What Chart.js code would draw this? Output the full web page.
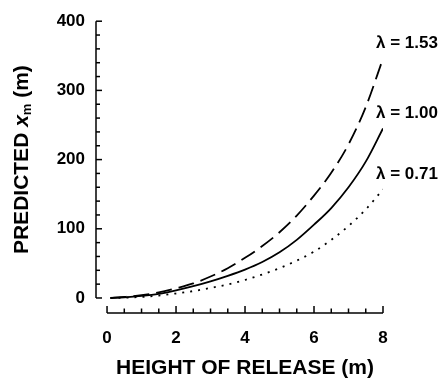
<!DOCTYPE html>
<html>
<head>
<meta charset="utf-8">
<script src="https://cdn.jsdelivr.net/npm/chart.js@4.4.1/dist/chart.umd.min.js"></script>
<style>
  html, body { margin: 0; padding: 0; background: #fff; }
  #wrap { width: 441px; height: 387px; position: relative; }
</style>
</head>
<body>
<div id="wrap"><canvas id="myChart"></canvas></div>
<script>
// height of release (m)
const heights = [0.1, 0.5, 1, 1.5, 2, 2.5, 3, 3.5, 4, 4.5, 5, 5.5, 6, 6.5, 7, 7.5, 8];
// predicted x_m (m) for each lambda
const xmLambda153 = [0, 1.5, 4, 8, 14, 21, 31, 43, 58, 75, 95, 119, 148, 181, 222, 276, 346];
const xmLambda100 = [0, 1, 3, 6, 11, 17, 24, 32, 41, 52, 66, 84, 106, 130, 160, 197, 245];
const xmLambda071 = [0, 0.5, 1.5, 3.5, 6.5, 10, 14.5, 19.5, 26, 34, 43, 54, 67, 84, 104, 128, 157];
const seriesLabels = ['λ = 1.53', 'λ = 1.00', 'λ = 0.71'];

const xTicks = [0, 2, 4, 6, 8];
const yTicks = [0, 100, 200, 300, 400];

const fontFamily = '"Liberation Sans", Arial, Helvetica, sans-serif';

function pts(ys) {
    return heights.map((h, i) => ({ x: h, y: ys[i] }));
}

// axis lines, minor ticks, titles and curve labels
const figurePlugin = {
    id: 'figurePlugin',
    afterDraw(chart) {
        const ctx = chart.ctx;
        const xs = chart.scales.x;
        const ys = chart.scales.y;
        const area = chart.chartArea;
        ctx.save();
        ctx.strokeStyle = '#000';
        ctx.lineWidth = 1.5;

        // y axis
        const ax = area.left;
        ctx.beginPath();
        ctx.moveTo(ax, ys.getPixelForValue(400));
        ctx.lineTo(ax, ys.getPixelForValue(0));
        ctx.stroke();
        for (let v = 0; v <= 400; v += 20) {
            const py = ys.getPixelForValue(v);
            const len = v % 100 === 0 ? 6 : 4;
            ctx.beginPath();
            ctx.moveTo(ax, py);
            ctx.lineTo(ax + len, py);
            ctx.stroke();
        }

        // x axis
        const ay = area.bottom;
        ctx.beginPath();
        ctx.moveTo(xs.getPixelForValue(0), ay);
        ctx.lineTo(xs.getPixelForValue(8), ay);
        ctx.stroke();
        for (let v = 0; v <= 8; v += 0.5) {
            const px = xs.getPixelForValue(v);
            const len = v % 2 === 0 ? 7 : 4.5;
            ctx.beginPath();
            ctx.moveTo(px, ay);
            ctx.lineTo(px, ay - len);
            ctx.stroke();
        }

        ctx.fillStyle = '#000';

        // curve labels
        ctx.font = 'bold 17px ' + fontFamily;
        ctx.textAlign = 'left';
        ctx.textBaseline = 'middle';
        chart.data.datasets.forEach((ds) => {
            const last = ds.data[ds.data.length - 1];
            ctx.fillText(ds.label, xs.getPixelForValue(last.x) - 7, ys.getPixelForValue(last.y) - 15);
        });

        // x title
        ctx.font = 'bold 21px ' + fontFamily;
        ctx.textAlign = 'center';
        ctx.fillText('HEIGHT OF RELEASE (m)', (xs.getPixelForValue(0) + xs.getPixelForValue(8)) / 2, 368);

        // y title: PREDICTED x_m (m)
        ctx.translate(22, (ys.getPixelForValue(0) + ys.getPixelForValue(400)) / 2);
        ctx.rotate(-Math.PI / 2);
        ctx.textAlign = 'left';
        const f1 = 'bold 21px ' + fontFamily;
        const f2 = 'italic bold 21px ' + fontFamily;
        const f3 = 'bold 13px ' + fontFamily;
        const parts = [
            { t: 'PREDICTED ', f: f1, dy: 0 },
            { t: 'x', f: f2, dy: 0 },
            { t: 'm', f: f3, dy: 5 },
            { t: ' (m)', f: f1, dy: 0 }
        ];
        let total = 0;
        parts.forEach(p => { ctx.font = p.f; p.w = ctx.measureText(p.t).width; total += p.w; });
        let cx = -total / 2;
        parts.forEach(p => {
            ctx.font = p.f;
            ctx.fillText(p.t, cx, p.dy);
            cx += p.w;
        });
        ctx.restore();
    }
};

const ctx = document.getElementById('myChart').getContext('2d');

const myChart = new Chart(ctx, {
    type: 'line',
    data: {
        datasets: [{
            label: seriesLabels[0],
            data: pts(xmLambda153),
            borderColor: '#000',
            borderWidth: 1.8,
            borderDash: [16, 7]
        }, {
            label: seriesLabels[1],
            data: pts(xmLambda100),
            borderColor: '#000',
            borderWidth: 1.8
        }, {
            label: seriesLabels[2],
            data: pts(xmLambda071),
            borderColor: '#000',
            borderWidth: 1.8,
            borderDash: [2, 6]
        }]
    },
    options: {
        responsive: true,
        maintainAspectRatio: false,
        animation: false,
        events: [],
        layout: {
            padding: { left: 0, right: 58, top: 21, bottom: 0 }
        },
        elements: {
            point: { radius: 0 },
            line: { tension: 0.4, cubicInterpolationMode: 'monotone', fill: false }
        },
        plugins: {
            legend: { display: false },
            tooltip: { enabled: false }
        },
        scales: {
            x: {
                type: 'linear',
                min: -0.32,
                max: 8,
                afterBuildTicks: (scale) => { scale.ticks = xTicks.map(v => ({ value: v })); },
                afterFit: (scale) => { scale.height = 74; },
                grid: { display: false, drawTicks: false },
                border: { display: false },
                ticks: {
                    color: '#000',
                    padding: 15,
                    maxRotation: 0,
                    font: { family: fontFamily, size: 17, weight: 'bold' }
                }
            },
            y: {
                type: 'linear',
                min: -21.7,
                max: 400,
                afterBuildTicks: (scale) => { scale.ticks = yTicks.map(v => ({ value: v })); },
                afterFit: (scale) => { scale.width = 96; },
                grid: { display: false, drawTicks: false },
                border: { display: false },
                ticks: {
                    color: '#000',
                    padding: 11,
                    font: { family: fontFamily, size: 17, weight: 'bold' }
                }
            }
        }
    },
    plugins: [figurePlugin]
});
</script>
</body>
</html>
